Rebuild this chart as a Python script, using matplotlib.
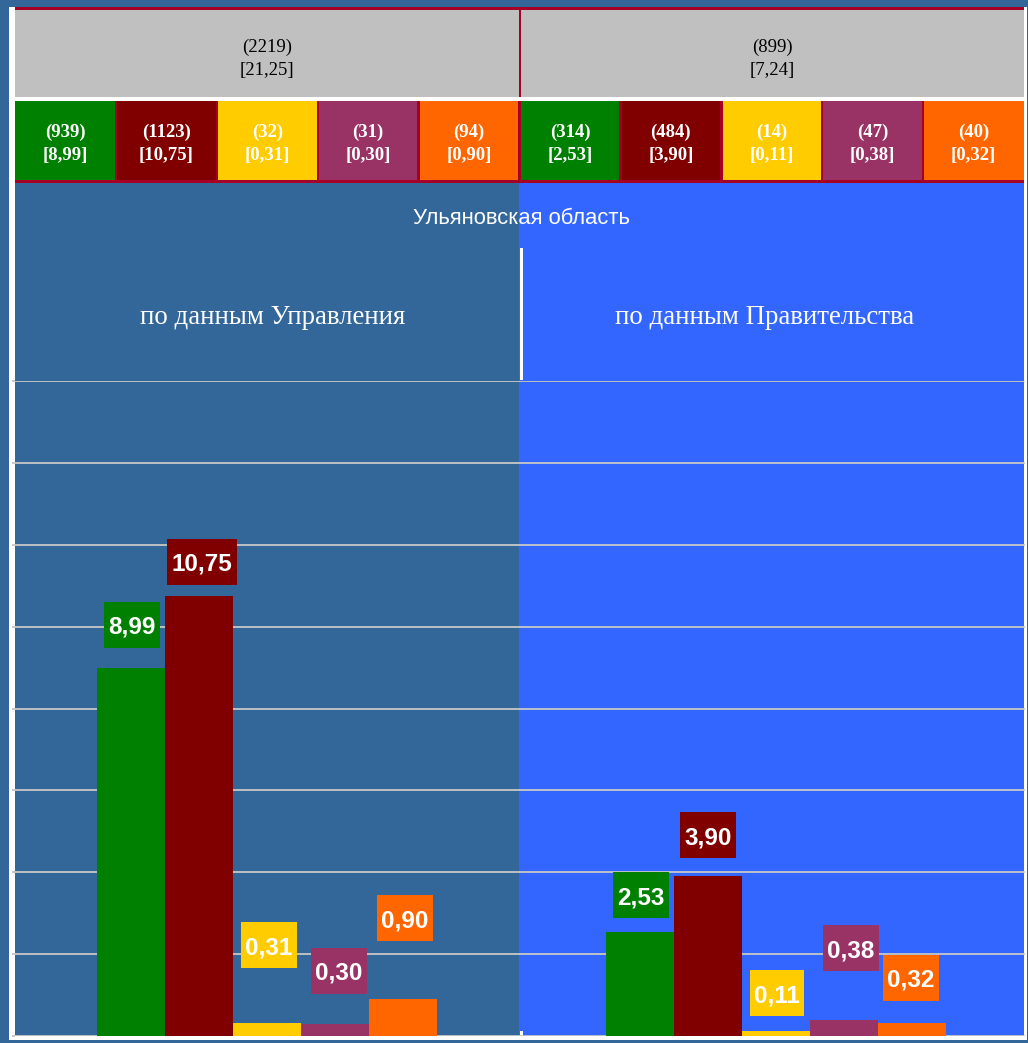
import matplotlib
matplotlib.use("Agg")
import matplotlib.pyplot as plt
from matplotlib.patches import Rectangle
from matplotlib.transforms import IdentityTransform

# ---------------- data ----------------
title = "Ульяновская область"
groups = ["по данным Управления", "по данным Правительства"]
group_counts = [2219, 899]
group_totals = [21.25, 7.24]
series_colors = ["#008000", "#800000", "#FFCC00", "#993366", "#FF6600"]
counts = [[939, 1123, 32, 31, 94], [314, 484, 14, 47, 40]]
values = [[8.99, 10.75, 0.31, 0.30, 0.90], [2.53, 3.90, 0.11, 0.38, 0.32]]
y_ticks = [0, 2, 4, 6, 8, 10, 12, 14, 16]

def fmt(v):
    return f"{v:.2f}".replace(".", ",")

# ---------------- layout ----------------
W, H = 1028, 1043
DPI = 100
fig = plt.figure(figsize=(W / DPI, H / DPI), dpi=DPI)
fig.patch.set_facecolor("#336699")

BORDER = "#A50026"
SERIF = "Liberation Serif"
SANS = "Liberation Sans"


def frect(x0, y0, x1, y1, z=-5, **kw):
    r = Rectangle((x0 / W, 1 - y1 / H), (x1 - x0) / W, (y1 - y0) / H,
                  transform=fig.transFigure, zorder=z, **kw)
    fig.patches.append(r)
    return r


def ftext(x, y, s, **kw):
    fig.text(x / W, 1 - y / H, s, ha="center", va="center", **kw)


# white frame base
frect(9, 7, 1027, 1040, fc="white", ec="none", z=-10)
# plot backgrounds
frect(15, 181, 519, 1036, fc="#336699", ec="none", z=-9)
frect(519, 181, 1024, 1036, fc="#3366FF", ec="none", z=-9)

# header row 1 (grey)
frect(15, 7, 1024, 97, fc="#C0C0C0", ec="none", z=-8)
frect(15, 7, 1024, 10, fc=BORDER, ec="none", z=-7)
frect(518.5, 7, 521, 97, fc=BORDER, ec="none", z=-7)
centers1 = [267, 772]
for g in range(2):
    ftext(centers1[g], 58.5, f"({group_counts[g]})\n[{fmt(group_totals[g])}]",
          family=SERIF, fontsize=13.5, color="black", linespacing=1.45)

# header row 2 (colored cells)
cell_w = (1024 - 15) / 10
for g in range(2):
    for i in range(5):
        k = g * 5 + i
        x0 = 15 + k * cell_w
        frect(x0, 101, x0 + cell_w, 181, fc=series_colors[i], ec="none", z=-7)
        if k > 0:
            frect(x0 - 1.2, 101, x0 + 1.2, 181, fc=BORDER, ec="none", z=-6)
        ftext(x0 + cell_w / 2, 144, f"({counts[g][i]})\n[{fmt(values[g][i])}]",
              family=SERIF, fontsize=13.5, fontweight="bold", color="white",
              linespacing=1.45)
frect(15, 180, 1024, 183, fc=BORDER, ec="none", z=-6)

# titles
ftext(521, 218, title, family=SANS, fontsize=15.8, color="white")
ftext(273, 318, groups[0], family=SERIF, fontsize=19.4, color="white")
ftext(765, 318, groups[1], family=SERIF, fontsize=19.4, color="white")
# white separator
frect(519.5, 248, 522.5, 380, fc="white", ec="none", z=-4)
frect(519.5, 1031, 522.5, 1036, fc="white", ec="none", z=-4)

# ---------------- bars axes ----------------
ax = fig.add_axes([15 / W, 1 - 1036 / H, (1025 - 15) / W, (1036 - 381) / H])
ax.set_facecolor("none")
ax.set_xlim(0, 2)
ax.set_ylim(0, 16)
ax.set_yticks(y_ticks)
ax.set_yticklabels([])
ax.set_xticks([])
ax.tick_params(axis="y", length=2.5, color="#C0C0C0", width=1.2)
for s in ax.spines.values():
    s.set_visible(False)
ax.grid(axis="y", color="#C8C8C8", lw=1.3)
ax.set_axisbelow(True)

group_centers = [0.499, 1.507]
bw = 68 / 505
label_dy = [[43, 34, 78, 53, 81], [37, 41, 38, 72, 45]]
label_dx = [[1, 3, 2, 4, 2], [1, 0, 1, 7, -1]]

tops = []
for g in range(2):
    xs = [group_centers[g] + (i - 2) * bw for i in range(5)]
    ax.bar(xs, values[g], width=bw, color=series_colors, zorder=3)
    for i in range(5):
        tops.append((g, i, xs[i], values[g][i]))

fig.canvas.draw()
renderer = fig.canvas.get_renderer()
for g, i, x, v in tops:
    px, py = ax.transData.transform((x, v))
    cx, cy = px + label_dx[g][i], py + label_dy[g][i]
    t = ax.text(cx, cy, fmt(v), transform=IdentityTransform(), ha="center",
                va="center_baseline", family=SANS, fontsize=17.5,
                fontweight="bold", color="white", zorder=6)
    bb = t.get_window_extent(renderer)
    bwid = bb.width + 9
    bh = 46
    rect = Rectangle((cx - bwid / 2, cy - bh / 2), bwid, bh,
                     transform=IdentityTransform(), fc=series_colors[i],
                     ec="none", zorder=5)
    ax.add_artist(rect)

fig.savefig("out.png", dpi=DPI, facecolor=fig.get_facecolor())
